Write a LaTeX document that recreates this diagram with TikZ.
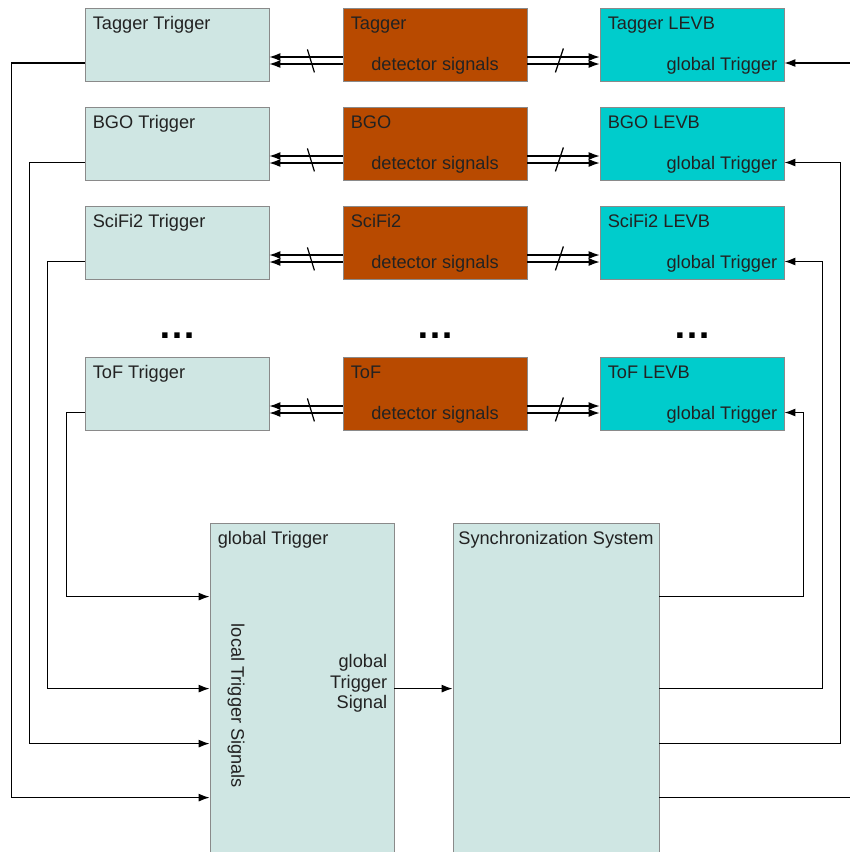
\documentclass[tikz,border=0pt]{standalone}
\usepackage{fontspec}
\setmainfont{Liberation Sans}
\usepackage{tikz}
\usetikzlibrary{arrows.meta}

\definecolor{trigfill}{RGB}{207,230,227}
\definecolor{detfill}{RGB}{184,74,0}
\definecolor{levbfill}{RGB}{0,204,204}
\definecolor{boxline}{RGB}{138,138,138}
\definecolor{txt}{RGB}{34,34,34}

\tikzset{
    box/.style={draw=boxline, line width=0.8pt, inner sep=0pt, minimum width=184pt, minimum height=73pt},
    trig/.style={box, fill=trigfill},
    det/.style={box, fill=detfill},
    levb/.style={box, fill=levbfill},
    ttl/.style={anchor=base west, inner sep=0pt, text=txt, font=\fontsize{18.2}{20.5}\selectfont},
    sub/.style={anchor=base east, inner sep=0pt, text=txt, font=\fontsize{18.2}{20.5}\selectfont},
    mid/.style={anchor=base, inner sep=0pt, text=txt, font=\fontsize{18.2}{20.5}\selectfont},
    wire/.style={line width=1.2pt},
    arr/.style={wire, -{Latex[length=11pt,width=8pt]}},
    dots/.style={anchor=base, inner sep=0pt, font=\bfseries\fontsize{38}{40}\selectfont}
}

\begin{document}
\begin{tikzpicture}[x=1pt, y=-1pt]
    \clip (0,0) rectangle (850,852);

    % Tagger row
    \node [trig] (tagtrig) at (177,44.5) {};
    \node [det] (tagdet) at (435,44.5) {};
    \node [levb] (taglevb) at (692,44.5) {};
    \node [ttl] at ([shift={(8pt,-21.5pt)}]tagtrig.north west) {Tagger Trigger};
    \node [ttl] at ([shift={(8pt,-21.5pt)}]tagdet.north west) {Tagger};
    \node [mid] at ([yshift=11pt]tagdet.south) {detector signals};
    \node [ttl] at ([shift={(8pt,-21.5pt)}]taglevb.north west) {Tagger LEVB};
    \node [sub] at ([shift={(-7pt,11pt)}]taglevb.south east) {global Trigger};

    % BGO row
    \node [trig] (bgotrig) at (177,143.5) {};
    \node [det] (bgodet) at (435,143.5) {};
    \node [levb] (bgolevb) at (692,143.5) {};
    \node [ttl] at ([shift={(8pt,-21.5pt)}]bgotrig.north west) {BGO Trigger};
    \node [ttl] at ([shift={(8pt,-21.5pt)}]bgodet.north west) {BGO};
    \node [mid] at ([yshift=11pt]bgodet.south) {detector signals};
    \node [ttl] at ([shift={(8pt,-21.5pt)}]bgolevb.north west) {BGO LEVB};
    \node [sub] at ([shift={(-7pt,11pt)}]bgolevb.south east) {global Trigger};

    % SciFi2 row
    \node [trig] (scitrig) at (177,242.5) {};
    \node [det] (scidet) at (435,242.5) {};
    \node [levb] (scilevb) at (692,242.5) {};
    \node [ttl] at ([shift={(8pt,-21.5pt)}]scitrig.north west) {SciFi2 Trigger};
    \node [ttl] at ([shift={(8pt,-21.5pt)}]scidet.north west) {SciFi2};
    \node [mid] at ([yshift=11pt]scidet.south) {detector signals};
    \node [ttl] at ([shift={(8pt,-21.5pt)}]scilevb.north west) {SciFi2 LEVB};
    \node [sub] at ([shift={(-7pt,11pt)}]scilevb.south east) {global Trigger};

    % dots
    \node [dots] (dotsl) at (177,338) {…};
    \node [dots] (dotsm) at (435,338) {…};
    \node [dots] (dotsr) at (692,338) {…};

    % ToF row
    \node [trig] (toftrig) at (177,393.5) {};
    \node [det] (tofdet) at (435,393.5) {};
    \node [levb] (toflevb) at (692,393.5) {};
    \node [ttl] at ([shift={(8pt,-21.5pt)}]toftrig.north west) {ToF Trigger};
    \node [ttl] at ([shift={(8pt,-21.5pt)}]tofdet.north west) {ToF};
    \node [mid] at ([yshift=11pt]tofdet.south) {detector signals};
    \node [ttl] at ([shift={(8pt,-21.5pt)}]toflevb.north west) {ToF LEVB};
    \node [sub] at ([shift={(-7pt,11pt)}]toflevb.south east) {global Trigger};

    % global trigger and sync
    \node [box, fill=trigfill, minimum width=184pt, minimum height=360pt] (gtrig) at (302,703) {};
    \node [box, fill=trigfill, minimum width=206pt, minimum height=360pt] (sync) at (556,703) {};
    \node [ttl] at ([shift={(8pt,-21.5pt)}]gtrig.north west) {global Trigger};
    \node [mid] at ([yshift=-21.5pt]sync.north) {Synchronization System};
    \node [rotate=-90, inner sep=0pt, text=txt, font=\fontsize{18.2}{20.5}\selectfont] (lts) at (236,706) {local Trigger Signals};
    \node [anchor=east, align=right, inner sep=0pt, text=txt, font=\fontsize{18.2}{20.5}\selectfont] (gts) at ([shift={(-7pt,-161pt)}]gtrig.north east) {global\\Trigger\\Signal};

    % detector signals
    \draw [arr] ([yshift=-12.5pt]tagdet.west) -- ([yshift=-12.5pt]tagtrig.east);
    \draw [arr] ([yshift=-19.5pt]tagdet.west) -- ([yshift=-19.5pt]tagtrig.east);
    \draw [arr] ([yshift=-12.5pt]tagdet.east) -- ([yshift=-12.5pt]taglevb.west);
    \draw [arr] ([yshift=-19.5pt]tagdet.east) -- ([yshift=-19.5pt]taglevb.west);
    \draw [wire] ([shift={(38pt,32pt)}]tagtrig.south east) -- ++(7,23);
    \draw [wire] ([shift={(28pt,9pt)}]tagdet.south east) -- ++(8,-24);

    \draw [arr] ([yshift=-12.5pt]bgodet.west) -- ([yshift=-12.5pt]bgotrig.east);
    \draw [arr] ([yshift=-19.5pt]bgodet.west) -- ([yshift=-19.5pt]bgotrig.east);
    \draw [arr] ([yshift=-12.5pt]bgodet.east) -- ([yshift=-12.5pt]bgolevb.west);
    \draw [arr] ([yshift=-19.5pt]bgodet.east) -- ([yshift=-19.5pt]bgolevb.west);
    \draw [wire] ([shift={(38pt,32pt)}]bgotrig.south east) -- ++(7,23);
    \draw [wire] ([shift={(28pt,9pt)}]bgodet.south east) -- ++(8,-24);

    \draw [arr] ([yshift=-12.5pt]scidet.west) -- ([yshift=-12.5pt]scitrig.east);
    \draw [arr] ([yshift=-19.5pt]scidet.west) -- ([yshift=-19.5pt]scitrig.east);
    \draw [arr] ([yshift=-12.5pt]scidet.east) -- ([yshift=-12.5pt]scilevb.west);
    \draw [arr] ([yshift=-19.5pt]scidet.east) -- ([yshift=-19.5pt]scilevb.west);
    \draw [wire] ([shift={(38pt,32pt)}]scitrig.south east) -- ++(7,23);
    \draw [wire] ([shift={(28pt,9pt)}]scidet.south east) -- ++(8,-24);

    \draw [arr] ([yshift=-12.5pt]tofdet.west) -- ([yshift=-12.5pt]toftrig.east);
    \draw [arr] ([yshift=-19.5pt]tofdet.west) -- ([yshift=-19.5pt]toftrig.east);
    \draw [arr] ([yshift=-12.5pt]tofdet.east) -- ([yshift=-12.5pt]toflevb.west);
    \draw [arr] ([yshift=-19.5pt]tofdet.east) -- ([yshift=-19.5pt]toflevb.west);
    \draw [wire] ([shift={(38pt,32pt)}]toftrig.south east) -- ++(7,23);
    \draw [wire] ([shift={(28pt,9pt)}]tofdet.south east) -- ++(8,-24);

    % local trigger signals
    \draw [arr] ([yshift=-18.5pt]tagtrig.west) -- ++(-73,0) |- ([yshift=-275pt]gtrig.north west);
    \draw [arr] ([yshift=-19pt]bgotrig.west) -- ++(-55,0) |- ([yshift=-221pt]gtrig.north west);
    \draw [arr] ([yshift=-19pt]scitrig.west) -- ++(-37,0) |- ([yshift=-166pt]gtrig.north west);
    \draw [arr] ([yshift=-19pt]toftrig.west) -- ++(-18,0) |- ([yshift=-74pt]gtrig.north west);

    % global trigger signal
    \draw [arr] ([yshift=-166pt]gtrig.north east) -- ([yshift=-166pt]sync.north west);

    % global trigger to LEVBs
    \draw [arr] ([yshift=-74pt]sync.north east) -- ++(144,0) |- ([yshift=-19pt]toflevb.east);
    \draw [arr] ([yshift=-166pt]sync.north east) -- ++(163,0) |- ([yshift=-19pt]scilevb.east);
    \draw [arr] ([yshift=-221pt]sync.north east) -- ++(181,0) |- ([yshift=-19pt]bgolevb.east);
    \draw [arr] ([yshift=-275pt]sync.north east) -- ++(211,0) |- ([yshift=-18.5pt]taglevb.east);
\end{tikzpicture}
\end{document}
